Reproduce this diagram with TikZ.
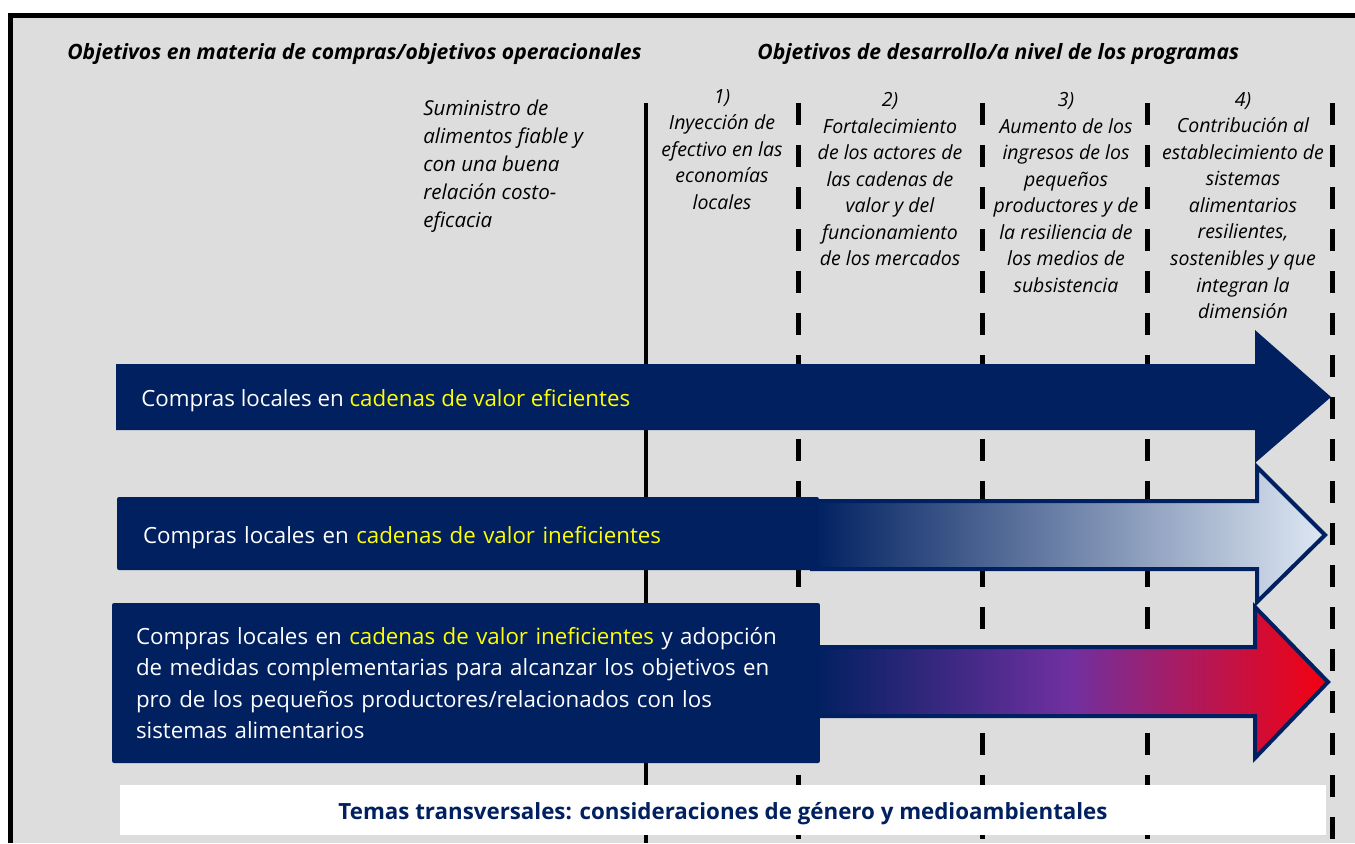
\documentclass[tikz,border=0pt]{standalone}
\usepackage{fontspec}
\setmainfont{Open Sans}
\usetikzlibrary{positioning}

\definecolor{navy}{RGB}{0,32,96}
\definecolor{panel}{RGB}{221,221,221}
\definecolor{palesky}{RGB}{222,231,243}
\definecolor{midviolet}{RGB}{112,48,160}
\definecolor{hotred}{RGB}{245,0,15}
\definecolor{hilite}{RGB}{255,255,0}

\pgfdeclarehorizontalshading{fadesky}{100bp}{color(0bp)=(navy); color(25bp)=(navy); color(75bp)=(palesky); color(100bp)=(palesky)}
\pgfdeclarehorizontalshading{fadered}{100bp}{color(0bp)=(navy); color(25bp)=(navy); color(50bp)=(midviolet); color(75bp)=(hotred); color(100bp)=(hotred)}

\begin{document}
\begin{tikzpicture}[x=0.02cm,y=-0.02cm,
  hdr/.style={font=\fontsize{12}{14}\selectfont\bfseries\itshape, inner sep=0pt, anchor=west},
  goal/.style={font=\fontsize{11.1}{15.1}\selectfont\itshape, align=center, inner sep=0pt, anchor=north},
  divider/.style={line width=0.1cm, dash pattern=on 0.44cm off 0.4cm},
  buytext/.style={text=white, font=\fontsize{12.7}{18}\selectfont, inner sep=0pt},
  buybox/.style={fill=navy, rounded corners=0.04cm, inner ysep=0pt, align=left}]
\useasboundingbox (0,0) rectangle (1355,843);
% panel and frame
\fill[panel] (10,15) rectangle (1355,843);
\draw[line width=0.1cm] (10.5,843) -- (10.5,15.5) -- (1355,15.5);

% column dividers
\draw[line width=0.08cm] (646,103) -- (646,843);
\foreach \x in {798,982,1147,1332}{
  \draw[divider] (\x,103) -- (\x,843);
}

% headings
\node[hdr] (opsgoal) at (67,54) {Objetivos en materia de compras/objetivos operacionales};
\node[hdr] (devgoal) at (757,54) {Objetivos de desarrollo/a nivel de los programas};
\node[goal, anchor=north west, align=left, font=\fontsize{11.7}{15.9}\selectfont\itshape] (supply) at (423,100)
  {Suministro de\\alimentos fiable y\\con una buena\\relación costo-\\eficacia};
\node[goal] (goalA) at (722,89) {1)\\Inyección de\\efectivo en las\\economías\\locales};
\node[goal] (goalB) at (890,92) {2)\\Fortalecimiento\\de los actores de\\las cadenas de\\valor y del\\funcionamiento\\de los mercados};
\node[goal] (goalC) at (1066,92) {3)\\Aumento de los\\ingresos de los\\pequeños\\productores y de\\la resiliencia de\\los medios de\\subsistencia};
\node[goal] (goalD) at (1243,92) {4)\\Contribución al\\establecimiento de\\sistemas\\alimentarios\\resilientes,\\sostenibles y que\\integran la\\dimensión};

% arrows
\fill[navy] (116,364) -- (1255,364) -- (1255,330) -- (1331,397) -- (1255,463) -- (1255,430) -- (116,430) -- cycle;
\shade[shading=fadesky, draw=navy, line width=0.08cm]
  (812,501) -- (1257,501) -- (1257,467) -- (1325,535) -- (1257,602) -- (1257,569) -- (812,569) -- cycle;
\shade[shading=fadered, draw=navy, line width=0.08cm]
  (812,647) -- (1255,647) -- (1255,607) -- (1328,682) -- (1255,758) -- (1255,716) -- (812,716) -- cycle;

% labels
\node[buytext, anchor=west] (buyA) at (141,401) {Compras locales en {\color{hilite}cadenas de valor eficientes}};
\node[buybox, buytext, inner xsep=0.52cm, text width=13cm, minimum height=1.46cm,
  text height=14pt, text depth=3pt] (buyB) at (468,533.5)
  {Compras locales en {\color{hilite}cadenas de valor ineficientes}};
\node[buybox, buytext, inner xsep=0.48cm, text width=13.2cm, minimum height=3.2cm] (buyC) at (466,683)
  {Compras locales en {\color{hilite}cadenas de valor ineficientes} y adopción\\de medidas complementarias para alcanzar los objetivos en\\pro de los pequeños productores/relacionados con los\\sistemas alimentarios};

% cross-cutting themes
\node[fill=white, minimum width=24.12cm, minimum height=1cm, text=navy, text height=14pt, text depth=3pt,
  font=\fontsize{12.7}{15}\selectfont\bfseries] (themes) at (723,810)
  {Temas transversales: consideraciones de género y medioambientales};
\end{tikzpicture}
\end{document}
